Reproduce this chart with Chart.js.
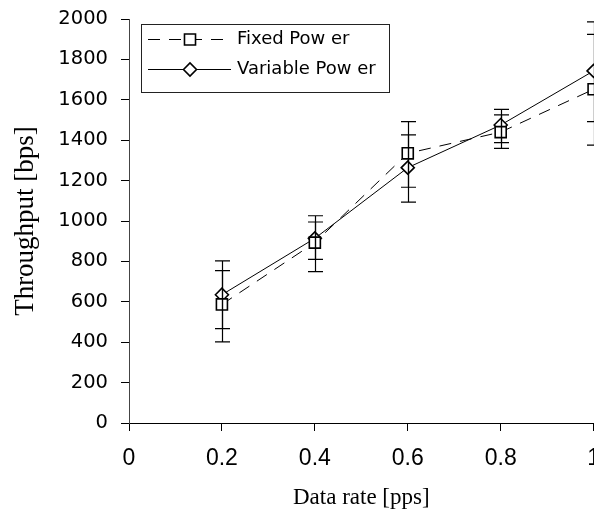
<!DOCTYPE html>
<html>
<head>
<meta charset="utf-8">
<script src="https://cdn.jsdelivr.net/npm/chart.js@4.4.0/dist/chart.umd.min.js"></script>
<style>
  html, body { margin: 0; padding: 0; background: #fff; overflow: hidden; }
  #wrap { width: 614px; height: 514px; position: relative; }
</style>
</head>
<body>
<div id="wrap"><canvas id="throughputChart"></canvas></div>
<script>
// data
const dataRates = [0.2, 0.4, 0.6, 0.8, 1.0];
const xTickLabels = ['0', '0.2', '0.4', '0.6', '0.8', '1'];
const yTickLabels = ['0', '200', '400', '600', '800', '1000', '1200', '1400', '1600', '1800', '2000'];

const fixedPower = [587, 893, 1335, 1440, 1652];
const fixedHigh = [754, 995, 1492, 1525, 1924];
const fixedLow = [402, 749, 1167, 1360, 1376];

const variablePower = [635, 914, 1264, 1475, 1743];
const variableHigh = [803, 1026, 1426, 1553, 1986];
const variableLow = [467, 810, 1093, 1388, 1492];

function toPoints(values) {
    return dataRates.map((x, i) => ({ x: x, y: values[i] }));
}

// vertical error bars with caps, drawn over the markers
const errorBars = {
    id: 'errorBars',
    afterDatasetsDraw(chart) {
        const ctx = chart.ctx;
        const yScale = chart.scales.y;
        chart.data.datasets.forEach((ds, i) => {
            const meta = chart.getDatasetMeta(i);
            meta.data.forEach((pt, j) => {
                const top = yScale.getPixelForValue(ds.errHigh[j]);
                const bot = yScale.getPixelForValue(ds.errLow[j]);
                const x = Math.round(pt.x) + 0.5;
                ctx.save();
                ctx.strokeStyle = '#000';
                ctx.lineWidth = 1.2;
                ctx.beginPath();
                ctx.moveTo(x, top);
                ctx.lineTo(x, bot);
                ctx.moveTo(x - 7.5, top);
                ctx.lineTo(x + 7.5, top);
                ctx.moveTo(x - 7.5, bot);
                ctx.lineTo(x + 7.5, bot);
                ctx.stroke();
                ctx.restore();
            });
        });
    }
};

// boxed legend with line + marker samples, like the original
const boxLegend = {
    id: 'boxLegend',
    afterDraw(chart) {
        const ctx = chart.ctx;
        const rows = [39, 69];
        ctx.save();
        ctx.fillStyle = '#fff';
        ctx.fillRect(141, 24, 248, 68);
        ctx.strokeStyle = '#222';
        ctx.lineWidth = 1;
        ctx.strokeRect(141.5, 24.5, 248, 68);

        chart.data.datasets.forEach((ds, i) => {
            const y = rows[i] + 0.5;
            ctx.strokeStyle = '#000';
            ctx.lineWidth = 1;
            ctx.setLineDash(ds.borderDash || []);
            ctx.beginPath();
            ctx.moveTo(148, y);
            ctx.lineTo(231, y);
            ctx.stroke();
            ctx.setLineDash([]);

            ctx.fillStyle = '#fff';
            ctx.lineWidth = ds.pointBorderWidth;
            Chart.helpers.drawPoint(ctx, {
                pointStyle: ds.pointStyle,
                radius: ds.pointRadius,
                borderWidth: ds.pointBorderWidth,
                rotation: 0
            }, 190, y);

            ctx.fillStyle = '#000';
            ctx.font = '18px "DejaVu Sans"';
            ctx.textBaseline = 'middle';
            ctx.textAlign = 'left';
            ctx.fillText(ds.label, 237, rows[i]);
        });
        ctx.restore();
    }
};

new Chart(document.getElementById('throughputChart'), {
    type: 'line',
    data: {
        datasets: [
            {
                label: 'Fixed Pow er',
                data: toPoints(fixedPower),
                errHigh: fixedHigh,
                errLow: fixedLow,
                borderColor: '#000',
                borderWidth: 1,
                borderDash: [12, 9],
                pointStyle: 'rect',
                pointRadius: 7.8,
                pointBorderWidth: 1.6,
                pointBackgroundColor: '#fff',
                pointBorderColor: '#000',
                fill: false,
                tension: 0,
                clip: false
            },
            {
                label: 'Variable Pow er',
                data: toPoints(variablePower),
                errHigh: variableHigh,
                errLow: variableLow,
                borderColor: '#000',
                borderWidth: 1,
                pointStyle: 'rectRot',
                pointRadius: 6.5,
                pointBorderWidth: 1.6,
                pointBackgroundColor: '#fff',
                pointBorderColor: '#000',
                fill: false,
                tension: 0,
                clip: false
            }
        ]
    },
    options: {
        responsive: true,
        maintainAspectRatio: false,
        animation: false,
        layout: { padding: { top: 19, right: 0, bottom: 0, left: 0 } },
        plugins: {
            legend: { display: false },
            tooltip: { enabled: false }
        },
        scales: {
            x: {
                type: 'linear',
                min: 0,
                max: 1,
                afterFit(scale) { scale.height = 91; },
                border: { display: true, color: '#000', width: 1 },
                grid: { drawOnChartArea: false, tickLength: 8, color: '#000' },
                ticks: {
                    stepSize: 0.2,
                    autoSkip: false,
                    maxRotation: 0,
                    padding: 14,
                    color: '#000',
                    font: { family: '"Liberation Sans", Arial', size: 23 },
                    callback: (value, index) => xTickLabels[index]
                },
                title: {
                    display: true,
                    text: 'Data rate [pps]',
                    color: '#000',
                    font: { family: '"Liberation Serif", "Times New Roman"', size: 23 },
                    padding: { top: 0, bottom: 2 }
                }
            },
            y: {
                min: 0,
                max: 2000,
                afterFit(scale) {
                    scale.width = 129;
                    scale.paddingTop = 0;
                    scale.paddingBottom = 0;
                },
                border: { display: true, color: '#444', width: 1 },
                grid: { drawOnChartArea: false, tickLength: 8, color: '#000' },
                ticks: {
                    stepSize: 200,
                    padding: 13,
                    color: '#000',
                    font: { family: '"DejaVu Sans"', size: 19.5 },
                    callback: (value, index) => yTickLabels[index]
                },
                title: {
                    display: true,
                    text: 'Throughput [bps]',
                    color: '#000',
                    font: { family: '"Liberation Serif", "Times New Roman"', size: 27 },
                    padding: { top: 10, bottom: 0 }
                }
            }
        }
    },
    plugins: [errorBars, boxLegend]
});
</script>
</body>
</html>
